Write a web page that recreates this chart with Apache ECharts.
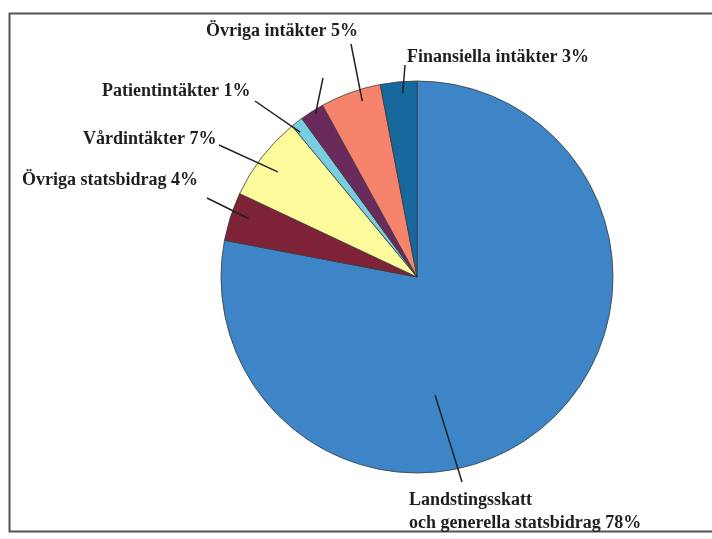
<!DOCTYPE html>
<html>
<head>
<meta charset="utf-8">
<script src="https://cdn.jsdelivr.net/npm/echarts@6/dist/echarts.min.js"></script>
<style>
  html, body { margin: 0; padding: 0; background: #fff; }
  #main { width: 712px; height: 539px; }
</style>
</head>
<body>
<div id="main"></div>
<script>
// data, clockwise from 12 o'clock
const categories = ['Landstingsskatt', 'Övriga statsbidrag', 'Vårdintäkter', 'Patientintäkter', '', 'Övriga intäkter', 'Finansiella intäkter']
const shares = [78, 4, 7, 1, 2, 5, 3]
const labelTexts = [
  'Landstingsskatt\noch generella statsbidrag 78%',
  'Övriga statsbidrag 4%',
  'Vårdintäkter 7%',
  'Patientintäkter 1%',
  '',
  'Övriga intäkter 5%',
  'Finansiella intäkter 3%'
]

const colors = ['#3d85c6', '#7d2237', '#fdfa9c', '#79cde0', '#6a2a5c', '#f6836c', '#17689c']

// layout
const cx = 417
const cy = 277
const R = 196
// label anchor [x, y, verticalAlign]
const labelAt = [
  [409, 489, 'top'],
  [22, 180, 'middle'],
  [83, 139, 'middle'],
  [102, 91, 'middle'],
  [0, 0, 'middle'],
  [206, 31, 'middle'],
  [407, 57, 'middle']
]
// where the leader line starts (near the label)
const lineStart = [[462, 482], [207, 198], [219, 145], [255, 101], [323, 78], [351, 44], [405, 65]]
// where it ends inside the slice: [fraction of slice angle, fraction of radius]
const lineEnd = [[0.61, 0.61], [0.58, 0.91], [0.47, 0.89], [0.2, 0.95], [0.57, 0.98], [0.64, 0.94], [0.59, 0.94]]

const total = shares.reduce((a, b) => a + b, 0)
function innerPoint (i) {
  let before = 0
  for (let k = 0; k < i; k++) before += shares[k]
  const deg = (before + lineEnd[i][0] * shares[i]) / total * 360
  const rad = deg * Math.PI / 180
  const r = R * lineEnd[i][1]
  return [cx + Math.sin(rad) * r, cy - Math.cos(rad) * r]
}

// leader lines on top of the slices
const leaders = shares.map((v, i) => {
  const e = innerPoint(i)
  return {
    type: 'line',
    z: 100,
    silent: true,
    shape: { x1: lineStart[i][0], y1: lineStart[i][1], x2: e[0], y2: e[1] },
    style: { stroke: '#222', lineWidth: 1.5 }
  }
})

const chart = echarts.init(document.getElementById('main'))
chart.setOption({
  animation: false,
  color: colors,
  graphic: [{
    type: 'rect',
    shape: { x: 9.5, y: 13.5, width: 720, height: 518 },
    style: { fill: null, stroke: '#555', lineWidth: 2 },
    silent: true
  }].concat(leaders),
  series: [{
    type: 'pie',
    center: [cx, cy],
    radius: R,
    startAngle: 90,
    clockwise: true,
    avoidLabelOverlap: false,
    itemStyle: { borderColor: '#3a3a3a', borderWidth: 0.8 },
    label: {
      show: true,
      position: 'outside',
      formatter: p => labelTexts[p.dataIndex],
      fontFamily: 'Liberation Serif',
      fontWeight: 'bold',
      fontSize: 18,
      lineHeight: 23,
      color: '#1e1e1e'
    },
    labelLine: { show: false },
    labelLayout: p => {
      const i = p.dataIndex
      return {
        x: labelAt[i][0],
        y: labelAt[i][1],
        align: 'left',
        verticalAlign: labelAt[i][2]
      }
    },
    data: categories.map((c, i) => ({ name: c, value: shares[i] }))
  }]
})
</script>
</body>
</html>
